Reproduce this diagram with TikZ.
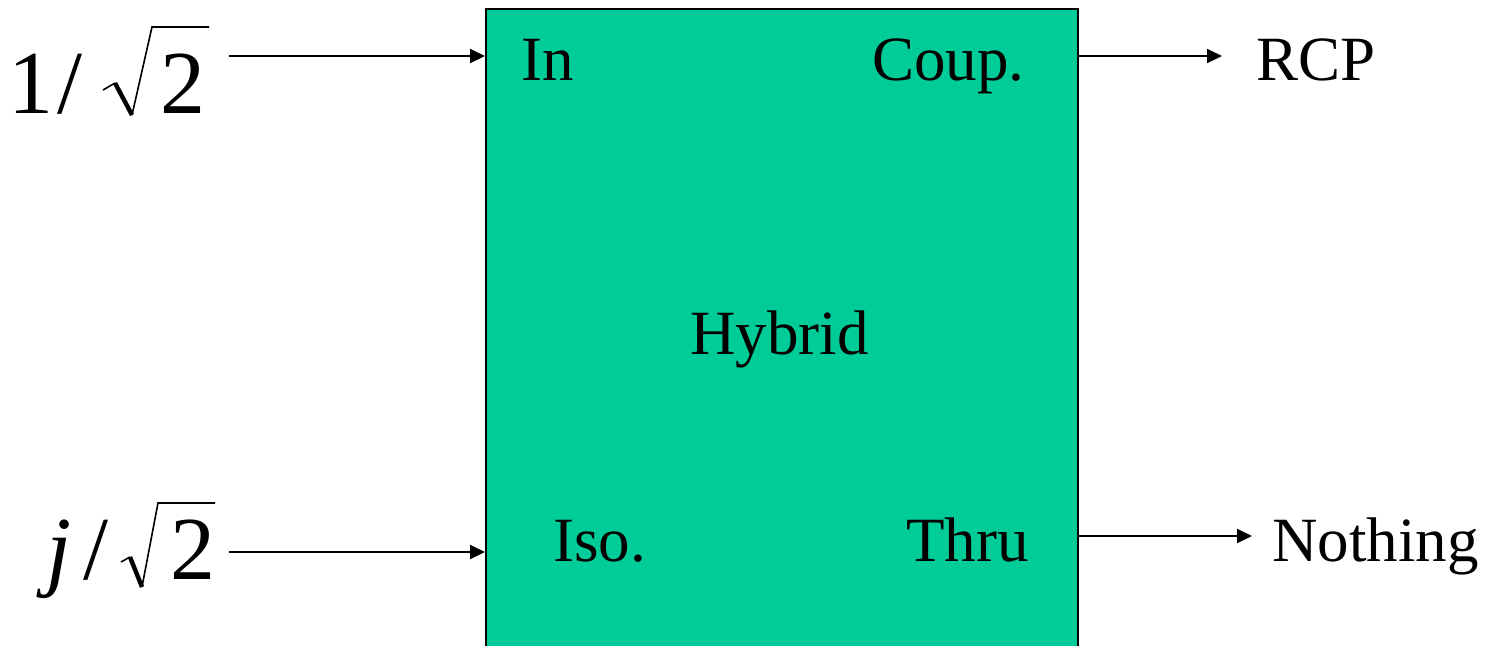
\documentclass[tikz,border=0pt]{standalone}
\usepackage{fontspec}
\setmainfont{Liberation Serif}
\usetikzlibrary{arrows.meta}
\definecolor{hybridgreen}{HTML}{00CC99}
\begin{document}
\begin{tikzpicture}[x=0.5pt,y=-0.5pt,
  lbl/.style={anchor=base west,inner sep=0pt,font=\fontsize{31.5}{36}\selectfont},
  mathlbl/.style={anchor=base west,inner sep=0pt,font=\fontsize{45}{50}\selectfont},
  radthin/.style={line width=0.8pt,line join=miter},
  radthick/.style={line width=2.2pt},
  sig/.style={line width=1pt,-{Triangle[length=7.5pt,width=7pt]}}]
\useasboundingbox (0,0) rectangle (1489,645);
\clip (0,0) rectangle (1489,645);
% hybrid coupler block (runs past the lower edge)
\node[draw=black,line width=1pt,fill=hybridgreen,anchor=north west,
      minimum width=296pt,minimum height=360pt,inner sep=0pt] (box) at (485,8) {};
% port labels inside the block
\node[lbl] (in) at (521,80) {In};
\node[lbl] (coup) at (872,80) {Coup.};
\node[lbl] (hyb) at (690,354) {Hybrid};
\node[lbl] (iso) at (553,561) {Iso.};
\node[lbl] (thru) at (906,561) {Thru};
% first input: 1 / sqrt(2)
\node[mathlbl] (oneA) at (8,113) {1};
\node[mathlbl] (slA) at (57,113) {/};
\node[mathlbl] (twoA) at (160,113) {2};
\draw[radthin] (103,90) -- (115,83);
\draw[radthick] (115,83) -- (132,115);
\draw[radthin] (132,115) -- (152,27) -- (209,27);
% second input: j / sqrt(2)
\node[mathlbl] (jB) at (46,579) {\itshape j};
\node[mathlbl] (slB) at (83,579) {/};
\node[mathlbl] (twoB) at (170,579) {2};
\draw[radthin] (121,562) -- (130,557);
\draw[radthick] (130,557) -- (142,587);
\draw[radthin] (142,587) -- (158,503) -- (215,503);
% outputs
\node[lbl] (rcp) at (1256,80) {RCP};
\node[lbl] (noth) at (1272,561) {Nothing};
% connector end points
\coordinate (a1) at (229,56);
\coordinate (a2) at (229,552);
\coordinate (b1) at (1222,56);
\coordinate (b2) at (1252,536);
\draw[sig] (a1) -- (a1 -| box.west);
\draw[sig] (a2) -- (a2 -| box.west);
\draw[sig] (b1 -| box.east) -- (b1);
\draw[sig] (b2 -| box.east) -- (b2);
\end{tikzpicture}
\end{document}
